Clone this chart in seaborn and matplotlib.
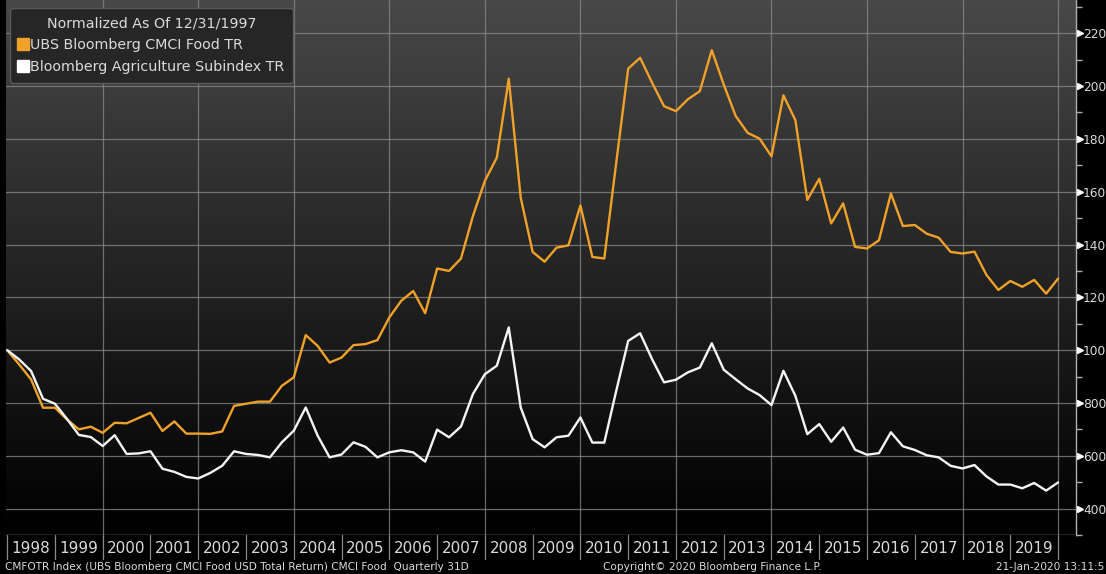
import numpy as np
import pandas as pd
import seaborn as sns
import matplotlib.pyplot as plt
from matplotlib.lines import Line2D
from matplotlib.colors import LinearSegmentedColormap
import matplotlib.transforms as mtransforms

# quarterly values, normalized to 100 at 12/31/1997
food_tr = [100, 94.6, 88.9, 78.2, 78.2, 73.8, 70.0, 71.0, 68.7, 72.5, 72.3, 74.3, 76.3, 69.4, 73.0, 68.4,
           68.4, 68.3, 69.2, 78.9, 79.7, 80.5, 80.5, 86.5, 89.7, 105.7, 101.6, 95.3, 97.2, 101.9, 102.3, 103.8,
           112.4, 118.7, 122.4, 114.0, 130.9, 130.0, 134.7, 150.8, 164.1, 172.9, 202.8, 157.8, 137.2, 133.5, 138.8, 139.7,
           154.8, 135.3, 134.7, 171.0, 206.6, 210.7, 201.3, 192.4, 190.5, 195.0, 198.1, 213.6, 200.6, 188.7, 182.3, 180.1,
           173.4, 196.5, 187.1, 156.9, 164.9, 148.0, 155.6, 139.1, 138.5, 141.6, 159.3, 147.0, 147.4, 144.1, 142.6, 137.2,
           136.6, 137.3, 128.5, 122.8, 126.2, 124.0, 126.6, 121.4, 127.1]
agri_tr = [100, 96.5, 92.1, 81.6, 79.7, 74.0, 67.9, 67.1, 63.7, 67.8, 60.7, 60.9, 61.7, 55.1, 53.9, 52.0,
           51.4, 53.5, 56.2, 61.7, 60.7, 60.3, 59.4, 65.1, 69.5, 78.3, 67.6, 59.4, 60.5, 65.1, 63.4, 59.4,
           61.3, 62.1, 61.3, 57.8, 69.9, 67.0, 71.1, 83.4, 90.9, 94.1, 108.6, 78.3, 66.3, 63.2, 67.0, 67.6,
           74.5, 65.0, 65.0, 84.6, 103.5, 106.4, 96.6, 87.8, 88.8, 91.6, 93.4, 102.6, 92.6, 89.0, 85.5, 83.0,
           79.2, 92.2, 82.7, 68.2, 72.0, 65.3, 70.7, 62.3, 60.4, 61.0, 68.9, 63.6, 62.2, 60.2, 59.4, 56.2,
           55.2, 56.5, 52.2, 49.1, 49.1, 47.7, 49.7, 46.8, 49.9]
series_names = ['UBS Bloomberg CMCI Food TR', 'Bloomberg Agriculture Subindex TR']
years = list(range(1998, 2020))
ytick_values = [40, 60, 80, 100, 120, 140, 160, 180, 200, 220]
ytick_labels = ['400', '600', '800', '100', '120', '140', '160', '180', '200', '220']

dates = pd.date_range('1997-12-31', periods=len(food_tr), freq='QE')
xpos = 1998 + np.arange(len(dates)) / 4

df = pd.concat([
    pd.DataFrame({'x': xpos, 'value': food_tr, 'series': series_names[0]}),
    pd.DataFrame({'x': xpos, 'value': agri_tr, 'series': series_names[1]}),
])

ORANGE = '#f0a128'
WHITE = '#f4f4f4'
TXT = '#dadada'

sns.set_style('dark')
plt.rcParams['font.family'] = ['DejaVu Sans']

W, H = 1106, 574
fig = plt.figure(figsize=(W / 100, H / 100), dpi=100, facecolor='black')
ax = fig.add_axes([6 / W, 1 - 535 / H, 1070 / W, 535 / H])
strip = fig.add_axes([6 / W, 1 - 560 / H, 1070 / W, 25 / H], sharex=ax)

# gradient background
grad = np.linspace(0, 1, 256).reshape(-1, 1)
ax.imshow(grad, extent=[0, 1, 0, 1], transform=ax.transAxes, aspect='auto',
          cmap=LinearSegmentedColormap.from_list('bg', ['#000000', '#484848']),
          origin='lower', zorder=-5)

sns.lineplot(data=df, x='x', y='value', hue='series', palette={series_names[0]: ORANGE, series_names[1]: WHITE},
             linewidth=1.7, ax=ax, legend=False, zorder=3)

ax.set_xlim(1997.975, 2020.375)
ax.set_ylim(30.3, 232.6)
ax.set_xlabel('')
ax.set_ylabel('')

# grid
for yv in ytick_values:
    ax.axhline(yv, color='#8a8a8a', lw=0.9, alpha=0.75, zorder=1)
for yr in range(2000, 2021, 2):
    ax.axvline(yr, color='#8a8a8a', lw=0.9, alpha=0.75, zorder=1)
ax.grid(False)

for s in ['top', 'left']:
    ax.spines[s].set_visible(False)
for s in ['right', 'bottom']:
    ax.spines[s].set_color('#b0b0b0')
    ax.spines[s].set_linewidth(1.0)

ax.set_xticks([])
ax.yaxis.tick_right()
ax.set_yticks(ytick_values)
ax.set_yticklabels(ytick_labels, color=TXT, fontsize=8.8)
ax.set_yticks([v + 10 for v in ytick_values] + [50 - 20], minor=True)
ax.tick_params(axis='y', which='major', length=0, pad=5)
ax.tick_params(axis='y', which='minor', length=4, width=1, color='#b0b0b0', right=True, left=False)
tr = mtransforms.blended_transform_factory(ax.transAxes, ax.transData)
ax.plot([1.0042] * len(ytick_values), ytick_values, marker='>', ms=4.5, color='white', ls='none',
        transform=tr, clip_on=False, zorder=5)

# legend
handles = [Line2D([], [], marker='s', ls='none', ms=8.5, color=ORANGE),
           Line2D([], [], marker='s', ls='none', ms=8.5, color='white')]
leg = ax.legend(handles, series_names, title='Normalized As Of 12/31/1997', loc='upper left',
                bbox_to_anchor=(4 / 1070, 1 - 8 / 535), frameon=True, facecolor='#262626',
                edgecolor='#5a5a5a', framealpha=1, fontsize=10.3, title_fontsize=10.3,
                handlelength=0.6, handletextpad=0.2, borderpad=0.6, labelspacing=0.55,
                borderaxespad=0)
for t in leg.get_texts():
    t.set_color(TXT)
leg.get_title().set_color(TXT)
leg.set_zorder(10)

# year strip
strip.set_facecolor('black')
strip.set_ylim(0, 1)
strip.set_yticks([])
strip.set_xticks([])
for s in strip.spines.values():
    s.set_visible(False)
for yr in years + [2020]:
    strip.axvline(yr, color='#8a8a8a', lw=0.9)
for yr in years:
    strip.text(yr + 0.5, 0.45, str(yr), ha='center', va='center', color=TXT, fontsize=11)

# footer
fig.text(5 / W, 1 - 567 / H, 'CMFOTR Index (UBS Bloomberg CMCI Food USD Total Return) CMCI Food  Quarterly 31D',
         color=TXT, fontsize=7.6, va='center', ha='left')
fig.text(712 / W, 1 - 567 / H, 'Copyright\u00a9 2020 Bloomberg Finance L.P.', color=TXT,
         fontsize=7.6, va='center', ha='center')
fig.text(1104 / W, 1 - 567 / H, '21-Jan-2020 13:11:5', color=TXT, fontsize=7.6,
         va='center', ha='right')

fig.savefig('out.png', dpi=100, facecolor='black')
